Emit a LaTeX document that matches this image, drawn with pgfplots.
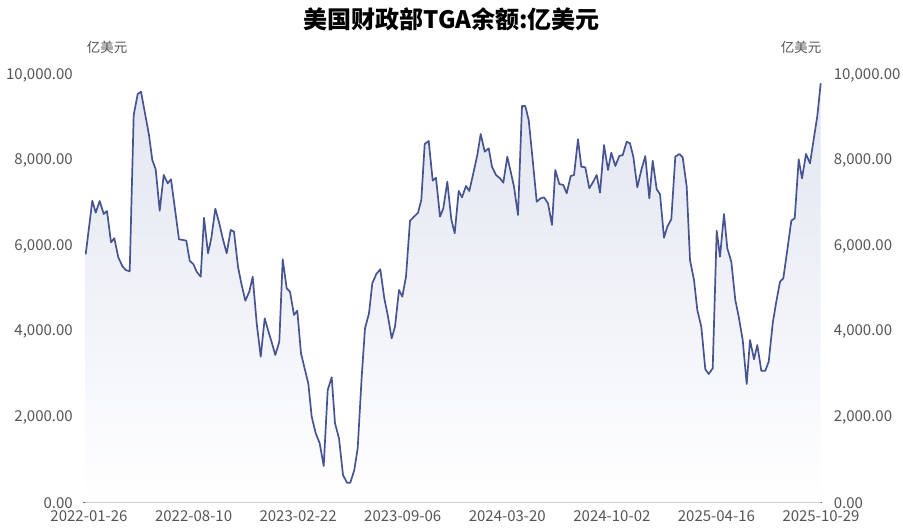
\documentclass[border=0pt]{standalone}
\usepackage{fontspec}
\setmainfont{Noto Sans CJK SC}
\usepackage{pgfplots}
\usepackage{pgfplotstable}
\pgfplotsset{compat=1.18}
\definecolor{lineblue}{RGB}{72,84,145}
\definecolor{fillblue}{RGB}{226,229,241}
\definecolor{ticklab}{RGB}{85,85,85}
\definecolor{axisgray}{RGB}{110,112,121}

% x = horizontal position of the weekly observation (pixel scale of the original), y = balance (100 million USD)
\pgfplotstableread{
x y
85.7 5808
92.3 7061
95.7 6780
99.7 7054
103.7 6750
107 6820
111 6088
114.3 6182
118.3 5738
122.3 5534
125.7 5440
129.7 5410
133.7 9064
137.7 9555
141 9609
145 9104
149 8597
152.3 8012
155.7 7795
159.7 6827
163.7 7662
167.7 7468
171 7561
175 6860
179 6158
183 6142
186.3 6126
189.7 5658
193.3 5581
196.7 5401
200.7 5284
204 6663
208 5831
211.3 6182
215.3 6874
219.3 6532
222.7 6182
226.7 5831
230.7 6376
234 6336
238 5518
241.3 5130
245.3 4723
249.3 4933
252.7 5284
256.7 4194
260.7 3414
264.7 4311
268 4038
272 3727
275.3 3453
279.3 3764
282.7 5691
286.7 5013
290 4933
294 4389
297.3 4489
301 3493
305 3103
308.3 2792
311.7 2011
315.7 1623
319.7 1389
323.7 858
327.7 2635
331.7 2932
335 1856
339 1506
343 648
347 468
350.3 468
354.3 765
357.7 1272
361.7 2946
365 4077
369 4428
372.3 5130
376.3 5347
380.3 5457
384.3 4779
387.7 4389
391.7 3844
395 4115
399 4973
402.3 4816
406 5284
410 6593
414 6687
418 6780
421.3 7077
424.7 8386
428.7 8457
432.7 7528
436 7598
440 6687
443.3 6883
447.3 7505
451.3 6626
454.7 6299
458.7 7288
462 7140
466 7405
469.3 7288
473.3 7701
477.3 8129
480.7 8620
484.7 8206
488.7 8286
492 7856
496 7662
500 7584
503.3 7482
507.3 8090
510.7 7739
514 7388
518 6726
522 9275
525.3 9275
528.7 8947
532.7 8012
536.7 7037
540.7 7117
544 7140
548 7000
552 6493
555.3 7779
559.3 7451
563.3 7428
566.7 7234
570.7 7638
574 7662
578 8496
581.3 7856
585.3 7842
589.3 7351
592.7 7482
596.7 7662
600 7248
604 8363
608 7779
611.3 8183
615.3 7872
619.3 8106
622.7 8129
626.7 8440
630 8403
633.3 8090
637.3 7374
641.3 7779
645.3 8106
649.3 7117
652.7 7996
656.7 7327
660 7214
664 6196
667.3 6453
671.3 6626
675.3 8090
679.3 8153
682.7 8075
686.7 7388
690 5674
694 5207
697.3 4505
701.3 4115
705.3 3119
708.7 3009
712.7 3142
716.7 6359
720 5751
724 6750
727.3 5948
731.3 5635
735.3 4739
738.7 4349
742.7 3804
746.7 2775
750 3804
754 3353
757.3 3687
761.3 3086
765.3 3086
768.7 3297
772.7 4194
776 4662
780 5167
783.3 5246
787.3 5908
791.3 6593
794.7 6649
798.7 8029
802 7584
806 8153
810 7935
813.3 8440
817.3 9041
820.7 9806
}\tgadata

\pgfplotsset{
  tgabase/.style={
    scale only axis, width=739bp, height=427.7bp,
    at={(83.3bp,28.3bp)}, anchor=south west,
    xmin=83.3, xmax=822.3, ymin=0, ymax=10000,
    ytick={0,2000,4000,6000,8000,10000},
    major tick length=0pt,
    tick label style={font=\fontsize{15bp}{17bp}\selectfont, text=ticklab},
    yticklabel style={/pgf/number format/fixed, /pgf/number format/fixed zerofill, /pgf/number format/precision=2, /pgf/number format/1000 sep={,}, /pgf/number format/assume math mode=true},
    scaled y ticks=false,
  }
}

\begin{document}
\begin{tikzpicture}
\useasboundingbox (0,0) rectangle (903bp,531bp);
\node[font=\fontsize{24bp}{28bp}\selectfont\bfseries] at (451.5bp,512bp) {美国财政部TGA余额:亿美元};
\node[text=ticklab, font=\fontsize{13.5bp}{15bp}\selectfont] at (107bp,484bp) {亿美元};
\node[text=ticklab, font=\fontsize{13.5bp}{15bp}\selectfont] at (801bp,484bp) {亿美元};

\begin{axis}[tgabase,
  axis x line*=bottom, axis y line*=left,
  y axis line style={draw=none},
  x axis line style={draw=axisgray, line width=0.9bp, -},
  xtick={89,193.6,298.1,402.7,507.3,611.9,716.4,821},
  xticklabels={2022-01-26,2022-08-10,2023-02-22,2023-09-06,2024-03-20,2024-10-02,2025-04-16,2025-10-29},
  xticklabel style={yshift=-4.5bp},
  yticklabel style={xshift=-7bp},
  clip=false,
]
\addplot[draw=none, top color=fillblue, bottom color=white, no marks] table {\tgadata} \closedcycle;
\addplot[lineblue, line width=1.7bp, no marks, line join=round] table {\tgadata};
\end{axis}

\begin{axis}[tgabase,
  axis x line=none, axis y line*=right,
  y axis line style={draw=none},
  yticklabel style={xshift=8bp},
]
\end{axis}
\end{tikzpicture}
\end{document}
